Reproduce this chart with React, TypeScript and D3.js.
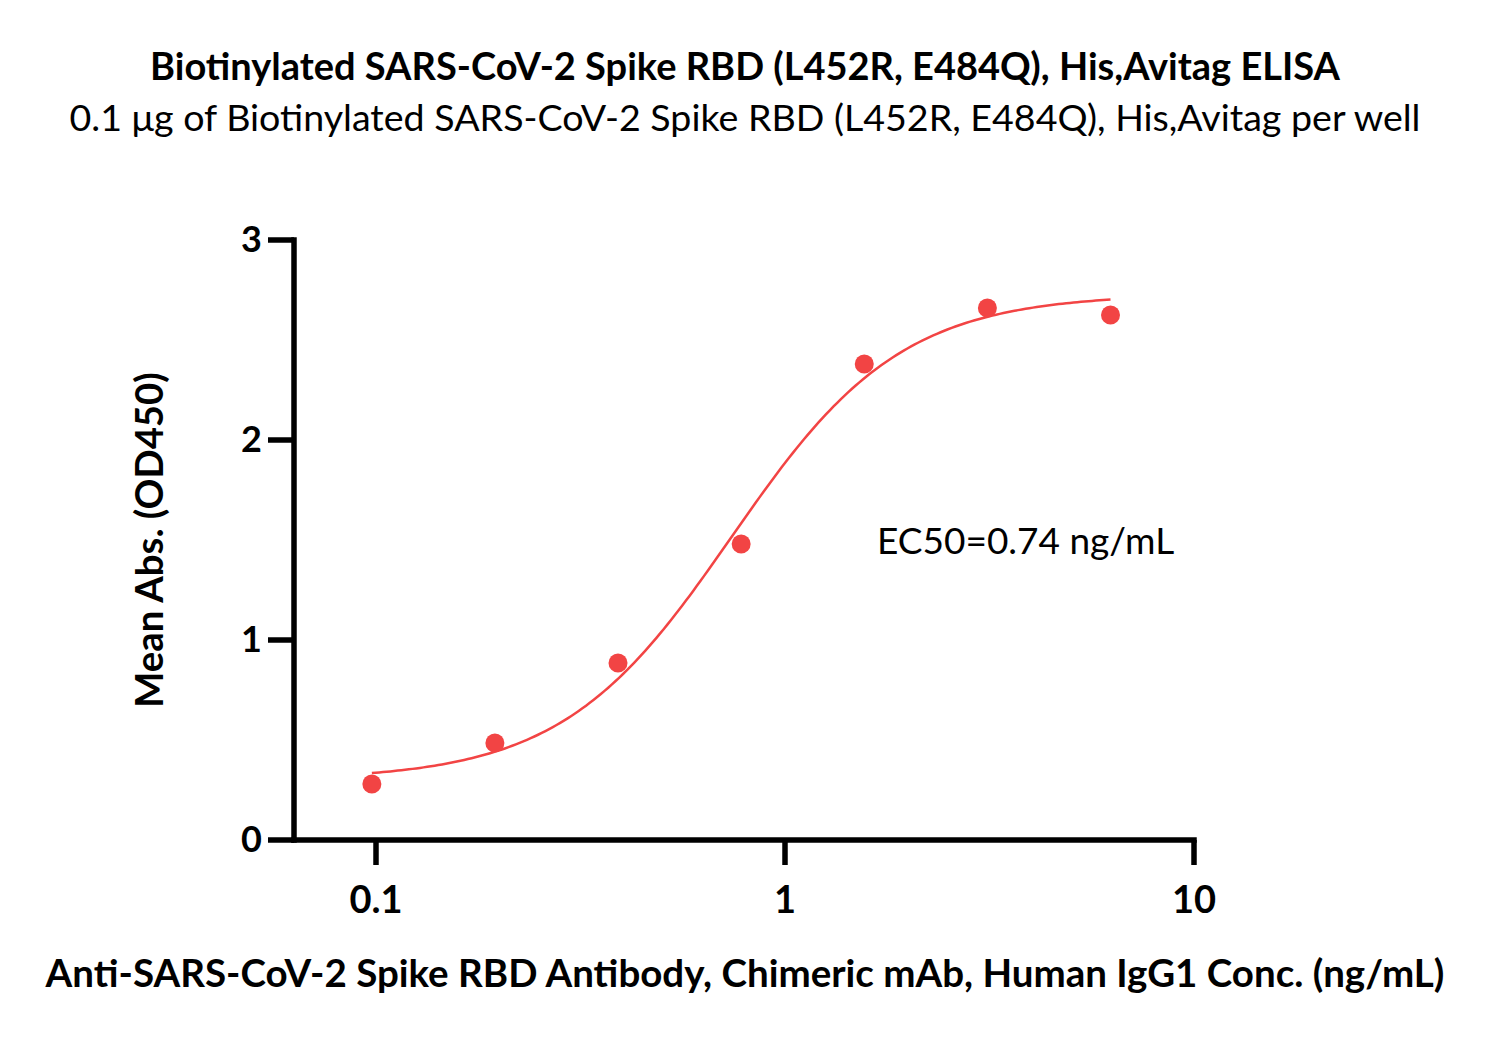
import React from "react";
import * as d3 from "d3";

const concentrations = [0.0977, 0.1953, 0.3906, 0.7813, 1.5625, 3.125, 6.25];
const meanAbs = [0.28, 0.485, 0.885, 1.48, 2.38, 2.66, 2.625];
const fitParams = { bottom: 0.3, top: 2.73, ec50: 0.74, hill: 2.09 };
const xTicks = [0.1, 1, 10];
const yTicks = [0, 1, 2, 3];

const title = "Biotinylated SARS-CoV-2 Spike RBD (L452R, E484Q), His,Avitag ELISA";
const subtitle = "0.1 μg of Biotinylated SARS-CoV-2 Spike RBD (L452R, E484Q), His,Avitag per well";
const xLabel = "Anti-SARS-CoV-2 Spike RBD Antibody, Chimeric mAb, Human IgG1 Conc. (ng/mL)";
const yLabel = "Mean Abs. (OD450)";
const annotation = "EC50=0.74 ng/mL";

const RED = "#F24444";
const FONT = "Lato, 'Open Sans', sans-serif";

export default function App() {
  const W = 1491, H = 1044;
  const x = d3.scaleLog().domain([0.1, 10]).range([376, 1194]);
  const y = d3.scaleLinear().domain([0, 3]).range([840, 240]);
  const axisX0 = 294;

  const fit = (c: number) =>
    fitParams.bottom + (fitParams.top - fitParams.bottom) / (1 + Math.pow(fitParams.ec50 / c, fitParams.hill));
  const curveXs = d3.range(0, 201).map((i) => {
    const lo = Math.log10(concentrations[0]);
    const hi = Math.log10(concentrations[concentrations.length - 1]);
    return Math.pow(10, lo + ((hi - lo) * i) / 200);
  });
  const line = d3.line<number>().x((c) => x(c)).y((c) => y(fit(c))).curve(d3.curveLinear);

  return (
    <svg width={W} height={H} viewBox={`0 0 ${W} ${H}`} style={{ display: "block", position: "absolute", left: 0, top: 0 }}>
      <rect width={W} height={H} fill="#fff" />
      <text x={745} y={80} textAnchor="middle" fontFamily={FONT} fontWeight="bold" fontSize={38}>{title}</text>
      <text x={745} y={131} textAnchor="middle" fontFamily={FONT} fontSize={37.6}>{subtitle}</text>

      {/* axes */}
      <line x1={axisX0} x2={axisX0} y1={y(3) - 2.75} y2={y(0) + 2.75} stroke="#000" strokeWidth={5.5} />
      <line x1={axisX0 - 2.75} x2={x(10) + 2.75} y1={y(0)} y2={y(0)} stroke="#000" strokeWidth={5.5} />
      {yTicks.map((t) => (
        <g key={"y" + t}>
          <line x1={axisX0 - 26} x2={axisX0} y1={y(t)} y2={y(t)} stroke="#000" strokeWidth={5.5} />
          <text x={262} y={y(t) + 12} textAnchor="end" fontFamily={FONT} fontWeight="bold" fontSize={36}>{t}</text>
        </g>
      ))}
      {xTicks.map((t) => (
        <g key={"x" + t}>
          <line x1={x(t)} x2={x(t)} y1={y(0)} y2={y(0) + 25} stroke="#000" strokeWidth={5.5} />
          <text x={x(t)} y={913} textAnchor="middle" fontFamily={FONT} fontWeight="bold" fontSize={38}>{t}</text>
        </g>
      ))}

      <text x={745} y={987} textAnchor="middle" fontFamily={FONT} fontWeight="bold" fontSize={38.5}>{xLabel}</text>
      <text transform={`translate(163,540) rotate(-90)`} textAnchor="middle" fontFamily={FONT} fontWeight="bold" fontSize={38.3}>{yLabel}</text>

      <path d={line(curveXs) || ""} fill="none" stroke={RED} strokeWidth={2.5} />
      {concentrations.map((c, i) => (
        <circle key={i} cx={x(c)} cy={y(meanAbs[i])} r={9.5} fill={RED} />
      ))}
      <text x={877} y={554} fontFamily={FONT} fontSize={37}>{annotation}</text>
    </svg>
  );
}
